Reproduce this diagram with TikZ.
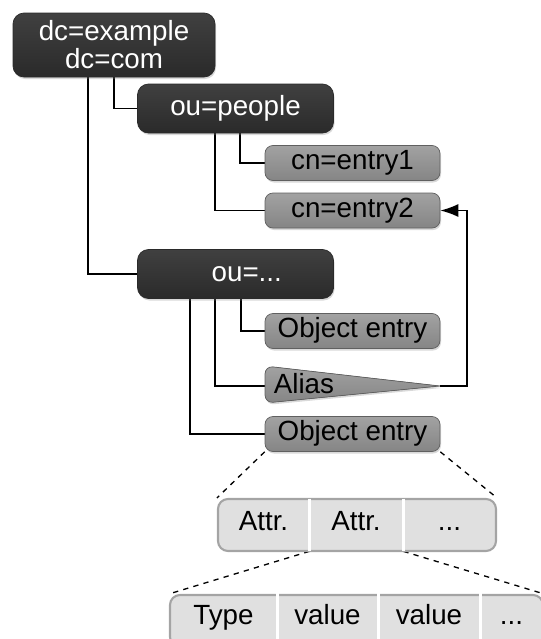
\documentclass[tikz,border=0pt]{standalone}
\usepackage{fontspec}
\setmainfont{Liberation Sans}
\usetikzlibrary{arrows.meta,shadows}
\pgfdeclarelayer{bg}
\pgfsetlayers{bg,main}
\definecolor{dirtop}{HTML}{404040}
\definecolor{dirbot}{HTML}{2A2A2A}
\definecolor{entrytop}{HTML}{A2A2A2}
\definecolor{entrybot}{HTML}{858585}
\definecolor{entryline}{HTML}{606060}
\definecolor{cellfill}{HTML}{E0E0E0}
\definecolor{cellline}{HTML}{A4A4A4}
\tikzset{
  every node/.style={font=\fontsize{15.8}{16}\selectfont},
  dirbox/.style={rounded corners=0.22cm, top color=dirtop, bottom color=dirbot, draw=dirbot,
    text=white, minimum width=3.92cm, minimum height=0.98cm,
    drop shadow={shadow xshift=0.02cm, shadow yshift=-0.04cm, opacity=0.3}},
  entrybox/.style={rounded corners=0.16cm, top color=entrytop, bottom color=entrybot, draw=entryline,
    minimum width=3.5cm, minimum height=0.7cm, inner sep=0, text height=0.85em, text depth=0.11em,
    drop shadow={shadow xshift=0.02cm, shadow yshift=-0.04cm, opacity=0.3}},
  rowbox/.style={rounded corners=0.2cm, fill=cellfill, draw=cellline, line width=1.2pt, inner sep=0},
  cell/.style={minimum height=1.04cm, inner sep=0, text height=0.8em, text depth=0.14em},
  divider/.style={white, line width=1.5pt},
  link/.style={line width=0.75pt},
  zoomline/.style={dashed, line width=0.75pt}
}
\begin{document}
\begin{tikzpicture}
\clip (0,0) rectangle (10.82,-12.78);
\node[dirbox, minimum width=4.04cm, minimum height=1.28cm, align=center] (root) at (2.28,-0.9) {dc=example\\dc=com};
\node[dirbox] (people) at (4.71,-2.17) {ou=people};
\node[entrybox] (entry1) at (7.05,-3.26) {cn=entry1};
\node[entrybox] (entry2) at (7.05,-4.21) {cn=entry2};
\node[dirbox] (ou) at (4.71,-5.48) {\hspace*{0.45cm}ou=...};
\node[entrybox] (obj1) at (7.05,-6.62) {Object entry};
\coordinate (aliastip) at (8.8,-7.72);
\coordinate (aliasleft) at (5.3,-7.72);
\filldraw[rounded corners=0.16cm, top color=entrytop, bottom color=entrybot, draw=entryline,
  drop shadow={shadow xshift=0.02cm, shadow yshift=-0.04cm, opacity=0.3}]
  (aliastip) -- (5.3,-7.32) -- (5.3,-8.06) -- (aliastip);
\node[anchor=west, inner sep=0] (alias) at (5.47,-7.68) {Alias};
\node[entrybox] (obj2) at (7.05,-8.68) {Object entry};

\node[rowbox, minimum width=5.56cm, minimum height=1.04cm] (attrs) at (7.14,-10.5) {};
\node[cell, minimum width=1.82cm] (attr1) at (5.27,-10.5) {Attr.};
\node[cell, minimum width=1.88cm] (attr2) at (7.12,-10.5) {Attr.};
\node[cell, minimum width=1.86cm] (attr3) at (8.99,-10.5) {...};
\draw[divider] (attr1.north east) -- (attr1.south east);
\draw[divider] (attr2.north east) -- (attr2.south east);

\node[rowbox, minimum width=7.46cm, minimum height=1.04cm] (types) at (7.13,-12.42) {};
\node[cell, minimum width=2.14cm] (type1) at (4.47,-12.38) {Type};
\node[cell, minimum width=2.02cm] (type2) at (6.55,-12.38) {value};
\node[cell, minimum width=2.04cm] (type3) at (8.58,-12.38) {value};
\node[cell, minimum width=1.26cm] (type4) at (10.23,-12.38) {...};
\draw[divider] (type1.north east) -- (type1.south east);
\draw[divider] (type2.north east) -- (type2.south east);
\draw[divider] (type3.north east) -- (type3.south east);

\begin{pgfonlayer}{bg}
\draw[link] (root.south) |- (people);
\draw[link] ([xshift=-0.52cm]root.south) |- (ou);
\draw[link] ([xshift=0.09cm]people.south) |- (entry1);
\draw[link] ([xshift=-0.41cm]people.south) |- (entry2);
\draw[link] ([xshift=0.11cm]ou.south) |- (obj1);
\draw[link] ([xshift=-0.41cm]ou.south) |- (aliasleft);
\draw[link] ([xshift=-0.91cm]ou.south) |- (obj2);
\draw[link, -{Latex[length=0.36cm, width=0.26cm]}] (aliastip) -- ++(0.54,0) |- (entry2);
\draw[zoomline] (obj2.south west) -- (attrs.north west);
\draw[zoomline] (obj2.south east) -- (attrs.north east);
\draw[zoomline] (attr1.south east) -- (types.north west);
\draw[zoomline] (attr2.south east) -- (types.north east);
\end{pgfonlayer}
\end{tikzpicture}
\end{document}
